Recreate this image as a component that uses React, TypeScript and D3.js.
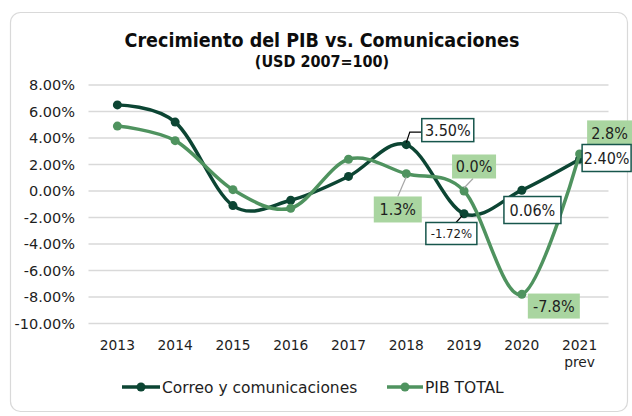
import React from "react";
import * as d3 from "d3";

const years = ["2013", "2014", "2015", "2016", "2017", "2018", "2019", "2020", "2021"];
const yearSub = ["", "", "", "", "", "", "", "", "prev"];
const correo = [6.5, 5.2, -1.1, -0.7, 1.1, 3.5, -1.72, 0.06, 2.4];
const pib = [4.9, 3.8, 0.1, -1.3, 2.4, 1.3, 0.0, -7.8, 2.8];
const yTicks = [8, 6, 4, 2, 0, -2, -4, -6, -8, -10];
const seriesNames = ["Correo y comunicaciones", "PIB TOTAL"];

const FONT = "'DejaVu Sans', sans-serif";
const COND = "'DejaVu Sans Condensed', 'DejaVu Sans', sans-serif";
const DARK = "#0c4533";
const GREEN = "#4f935f";
const LABEL_FILL = "#a9d5a0";
const BORDER = "#17564c";
const TEXT = "#1e1e1e";

// label layout: series, index, text, box center offset from point, size, style
const labels = [
  { s: 0, i: 5, t: "3.50%", dx: 41.5, dy: -14.5, w: 52, h: 23, kind: "box", fs: 16, leader: "elbow" },
  { s: 1, i: 6, t: "0.0%", dx: 10, dy: -24.5, w: 44, h: 24, kind: "fill", fs: 16, leader: "gray" },
  { s: 1, i: 5, t: "1.3%", dx: -8.5, dy: 35.7, w: 48, h: 26, kind: "fill", fs: 16, leader: "gray" },
  { s: 0, i: 6, t: "-1.72%", dx: -12.7, dy: 19.7, w: 51, h: 22, kind: "box", fs: 13, leader: "dark" },
  { s: 0, i: 7, t: "0.06%", dx: 10.6, dy: 19.8, w: 57, h: 27, kind: "box", fs: 16, leader: "none" },
  { s: 1, i: 7, t: "-7.8%", dx: 32, dy: 11.7, w: 52, h: 25, kind: "fill", fs: 16, leader: "none" },
  { s: 1, i: 8, t: "2.8%", dx: 30, dy: -21, w: 45, h: 25, kind: "fill", fs: 16, leader: "gray2" },
  { s: 0, i: 8, t: "2.40%", dx: 27, dy: -1.2, w: 49, h: 27, kind: "box", fs: 16, leader: "none" },
];

export default function App() {
  const W = 632, H = 416;
  const x = d3.scaleBand<string>().domain(years).range([88.5, 608.5]);
  const cx = (i: number) => (x(years[i]) as number) + x.bandwidth() / 2;
  const y = d3.scaleLinear().domain([-10, 8]).range([323.5, 85]);
  const line = d3
    .line<number>()
    .x((_, i) => cx(i))
    .y((d) => y(d))
    .curve(d3.curveCardinal.tension(0));
  const data = [correo, pib];
  const colors = [DARK, GREEN];

  return (
    <svg width={W} height={H} style={{ position: "absolute", left: 0, top: 0 }} fontFamily={FONT}>
      <rect x={0} y={0} width={W} height={H} fill="#ffffff" />
      <rect x={10.5} y={12.5} width={617} height={399} rx={10} fill="#ffffff" stroke="#d9d9d9" strokeWidth={1.2} />
      <text x={322} y={47} textAnchor="middle" fontSize={19.5} fontWeight="bold" fill="#0d0d0d" fontFamily={COND}>
        Crecimiento del PIB vs. Comunicaciones
      </text>
      <text x={322} y={67} textAnchor="middle" fontSize={16} fontWeight="bold" fill="#0d0d0d" fontFamily={COND}>
        (USD 2007=100)
      </text>
      {yTicks.map((t) => (
        <g key={t}>
          <line x1={88.5} x2={608.5} y1={y(t)} y2={y(t)} stroke="#d9d9d9" strokeWidth={1.5} />
          <text x={75} y={y(t) + 5} textAnchor="end" fontSize={14.5} fill={TEXT}>
            {t.toFixed(2) + "%"}
          </text>
        </g>
      ))}
      {years.map((yr, i) => (
        <g key={yr}>
          <text x={cx(i)} y={350} textAnchor="middle" fontSize={13.8} fill={TEXT}>
            {yr}
          </text>
          {yearSub[i] && (
            <text x={cx(i)} y={367} textAnchor="middle" fontSize={13.8} fill={TEXT}>
              {yearSub[i]}
            </text>
          )}
        </g>
      ))}
      {data.map((d, s) => (
        <g key={s}>
          <path d={line(d) as string} fill="none" stroke={colors[s]} strokeWidth={3.5} />
          {d.map((v, i) => (
            <circle key={i} cx={cx(i)} cy={y(v)} r={4.5} fill={colors[s]} />
          ))}
        </g>
      ))}
      {labels.map((l, k) => {
        const px = cx(l.i);
        const py = y(data[l.s][l.i]);
        const bx = px + l.dx;
        const by = py + l.dy;
        let leader: React.ReactNode = null;
        if (l.leader === "elbow") {
          leader = (
            <polyline
              points={`${px},${py - 2} ${px + 3.5},${by + 2} ${bx - l.w / 2},${by + 2}`}
              fill="none"
              stroke="#000"
              strokeWidth={1.2}
            />
          );
        } else if (l.leader === "gray") {
          const ty = l.dy < 0 ? by + l.h / 2 : by - l.h / 2;
          const tx = l.dy < 0 ? bx - 1 : bx;
          leader = <line x1={px} y1={py + (l.dy < 0 ? -3 : 3)} x2={tx} y2={ty} stroke="#a6a6a6" strokeWidth={1.2} />;
        } else if (l.leader === "gray2") {
          leader = <line x1={px + 2} y1={py - 1} x2={px + 31} y2={py - 6} stroke="#a6a6a6" strokeWidth={1.2} />;
        } else if (l.leader === "dark") {
          leader = <line x1={px - 2} y1={py + 2} x2={px - 8} y2={by - l.h / 2} stroke="#000" strokeWidth={1.2} />;
        }
        return (
          <g key={k}>
            {leader}
            <rect
              x={bx - l.w / 2}
              y={by - l.h / 2}
              width={l.w}
              height={l.h}
              fill={l.kind === "fill" ? LABEL_FILL : "#ffffff"}
              stroke={l.kind === "fill" ? "none" : BORDER}
              strokeWidth={1.5}
            />
            <text x={bx} y={by + l.fs * 0.36} textAnchor="middle" fontSize={l.fs} fill={TEXT} fontFamily={COND}>
              {l.t}
            </text>
          </g>
        );
      })}
      {seriesNames.map((n, s) => {
        const x0 = s === 0 ? 122 : 387;
        const x1 = s === 0 ? 160 : 423;
        return (
          <g key={n}>
            <line x1={x0} x2={x1} y1={387} y2={387} stroke={colors[s]} strokeWidth={3.5} />
            <circle cx={(x0 + x1) / 2} cy={387} r={4.5} fill={colors[s]} />
            <text x={x1 + 2} y={392.5} fontSize={15.5} fill={TEXT}>
              {n}
            </text>
          </g>
        );
      })}
    </svg>
  );
}
